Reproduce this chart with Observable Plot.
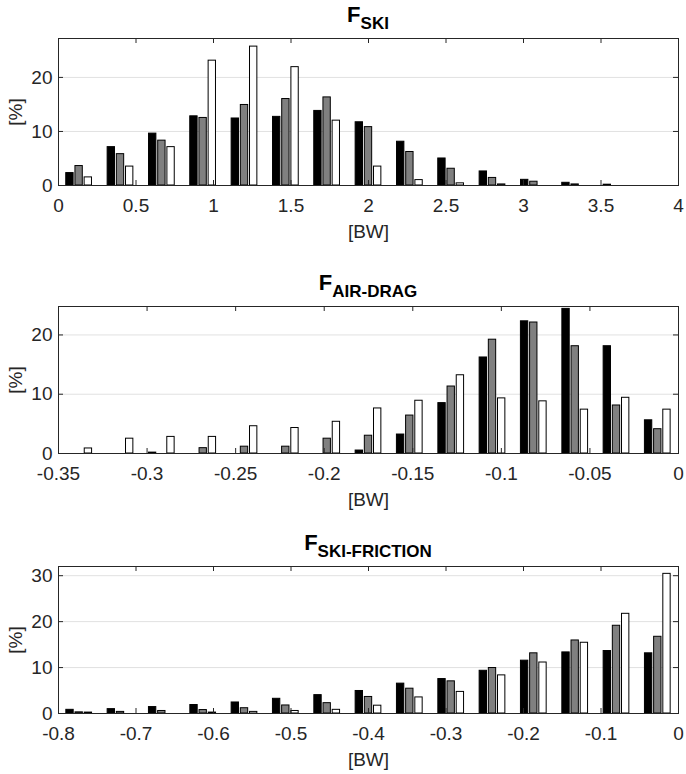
<!DOCTYPE html>
<html>
<head>
<meta charset="utf-8">
<script src="https://cdn.jsdelivr.net/npm/d3@7"></script>
<script src="https://cdn.jsdelivr.net/npm/@observablehq/plot@0.6"></script>
<style>
  body { margin: 0; background: #fff; }
  #wrap { position: relative; width: 686px; height: 774px; background: #fff; }
  #wrap svg { position: absolute; left: 0; }
</style>
</head>
<body>
<div id="wrap"></div>
<script>
// ---- series ----
const series = ["A", "B", "C"];

// ---- F_SKI ----
const skiBins = [0.133, 0.4, 0.667, 0.933, 1.2, 1.467, 1.733, 2.0, 2.267, 2.533, 2.8, 3.067, 3.333, 3.6, 3.867];
const skiA = [2.3, 7.1, 9.6, 12.8, 12.4, 12.7, 13.8, 11.7, 8.1, 5.0, 2.6, 1.05, 0.5, 0.15, 0];
const skiB = [3.6, 5.8, 8.3, 12.5, 14.9, 16.0, 16.3, 10.8, 6.2, 3.1, 1.4, 0.7, 0.2, 0, 0];
const skiC = [1.5, 3.5, 7.1, 23.1, 25.7, 21.9, 12.0, 3.5, 1.0, 0.4, 0.2, 0, 0, 0, 0];
const skiXTicks = [0, 0.5, 1, 1.5, 2, 2.5, 3, 3.5, 4];
const skiYTicks = [0, 10, 20];

// ---- F_AIR-DRAG ----
const dragBins = [-0.3383, -0.315, -0.2917, -0.2683, -0.245, -0.2217, -0.1983, -0.175, -0.1517, -0.1283, -0.105, -0.0817, -0.0583, -0.035, -0.0117];
const dragA = [0, 0, 0.15, 0, 0, 0, 0, 0.5, 3.2, 8.5, 16.2, 22.3, 24.4, 18.1, 5.6];
const dragB = [0, 0, 0, 0.9, 1.15, 1.15, 2.5, 3.0, 6.4, 11.3, 19.2, 22.1, 18.1, 8.1, 4.1];
const dragC = [0.85, 2.5, 2.8, 2.8, 4.6, 4.3, 5.35, 7.6, 8.9, 13.2, 9.3, 8.8, 7.4, 9.4, 7.4];
const dragXTicks = [-0.35, -0.3, -0.25, -0.2, -0.15, -0.1, -0.05, 0];
const dragYTicks = [0, 10, 20];

// ---- F_SKI-FRICTION ----
const fricBins = [-0.7733, -0.72, -0.6667, -0.6133, -0.56, -0.5067, -0.4533, -0.4, -0.3467, -0.2933, -0.24, -0.1867, -0.1333, -0.08, -0.0267];
const fricA = [0.8, 0.95, 1.4, 1.85, 2.4, 3.2, 4.0, 4.9, 6.5, 7.5, 9.3, 11.5, 13.3, 13.6, 13.1];
const fricB = [0.25, 0.35, 0.55, 0.75, 1.15, 1.75, 2.25, 3.6, 5.4, 7.0, 9.9, 13.1, 15.9, 19.1, 16.7];
const fricC = [0.2, 0, 0, 0.2, 0.35, 0.55, 0.8, 1.7, 3.5, 4.7, 8.3, 11.1, 15.4, 21.7, 30.4];
const fricXTicks = [-0.8, -0.7, -0.6, -0.5, -0.4, -0.3, -0.2, -0.1, 0];
const fricYTicks = [0, 10, 20, 30];

function toRows(bins, a, b, c) {
  return bins.flatMap((bin, i) => [a, b, c].map((vals, k) => ({bin, k, series: series[k], value: vals[i]})));
}

function titleMark(main, sub) {
  return (index, scales, values, dims) => {
    const cx = dims.marginLeft + (dims.width - dims.marginLeft - dims.marginRight) / 2;
    const t = d3.create("svg:text")
      .attr("x", cx)
      .attr("y", dims.marginTop - 16)
      .attr("text-anchor", "middle")
      .attr("font-weight", "bold")
      .attr("fill", "#000")
      .attr("font-family", "'Liberation Sans', Arial, sans-serif");
    t.append("tspan").attr("font-size", 22).text(main);
    t.append("tspan").attr("font-size", 17).attr("dy", 7).text(sub);
    return t.node();
  };
}

function panel({rows, binWidth, xDomain, xTicks, yDomain, yTicks, main, sub}) {
  const W = 686, mL = 58, mR = 8, mT = 38, mB = 60, innerH = 147;
  const H = mT + innerH + mB, innerW = W - mL - mR;
  const offs = [-2 / 9, 0, 2 / 9];
  const bw = (2 / 9) * 0.8;
  const axisColor = "#262626";
  return Plot.plot({
    width: W, height: H,
    marginLeft: mL, marginRight: mR, marginTop: mT, marginBottom: mB,
    style: {fontFamily: "'Liberation Sans', Arial, sans-serif", fontSize: "19px", color: axisColor, background: "white"},
    x: {domain: xDomain},
    y: {domain: yDomain},
    color: {domain: series, range: ["#000000", "#808080", "#ffffff"]},
    marks: [
      Plot.gridY(yTicks.filter(d => d > 0), {stroke: "#000", strokeOpacity: 0.12}),
      Plot.rectY(rows, {
        x1: d => d.bin + (offs[d.k] - bw / 2) * binWidth,
        x2: d => d.bin + (offs[d.k] + bw / 2) * binWidth,
        y1: 0, y2: "value",
        fill: "series", stroke: "#000", strokeWidth: 1
      }),
      Plot.frame({stroke: axisColor}),
      Plot.tickX(xTicks, {x: d => d, insetTop: innerH - 5, stroke: axisColor}),
      Plot.tickX(xTicks, {x: d => d, insetBottom: innerH - 5, stroke: axisColor}),
      Plot.tickY(yTicks, {y: d => d, insetRight: innerW - 5, stroke: axisColor}),
      Plot.tickY(yTicks, {y: d => d, insetLeft: innerW - 5, stroke: axisColor}),
      Plot.axisX(xTicks, {tickSize: 0, tickPadding: 13, tickFormat: d => String(d), fontSize: 19,
        label: "[BW]", labelAnchor: "center", labelArrow: "none", labelOffset: 52}),
      Plot.axisY(yTicks, {tickSize: 0, tickPadding: 6, tickFormat: d => String(d), fontSize: 19,
        label: "[%]", labelAnchor: "center", labelArrow: "none", labelOffset: 50}),
      titleMark(main, sub)
    ]
  });
}

const wrap = document.getElementById("wrap");
const panels = [
  {top: 0, rows: toRows(skiBins, skiA, skiB, skiC), binWidth: 4 / 15, xDomain: [0, 4], xTicks: skiXTicks, yDomain: [0, 27.2], yTicks: skiYTicks, main: "F", sub: "SKI"},
  {top: 268, rows: toRows(dragBins, dragA, dragB, dragC), binWidth: 0.35 / 15, xDomain: [-0.35, 0], xTicks: dragXTicks, yDomain: [0, 24.8], yTicks: dragYTicks, main: "F", sub: "AIR-DRAG"},
  {top: 528, rows: toRows(fricBins, fricA, fricB, fricC), binWidth: 0.8 / 15, xDomain: [-0.8, 0], xTicks: fricXTicks, yDomain: [0, 32], yTicks: fricYTicks, main: "F", sub: "SKI-FRICTION"}
];
for (const p of panels) {
  const svg = panel(p);
  svg.style.top = p.top + "px";
  wrap.appendChild(svg);
}
</script>
</body>
</html>
